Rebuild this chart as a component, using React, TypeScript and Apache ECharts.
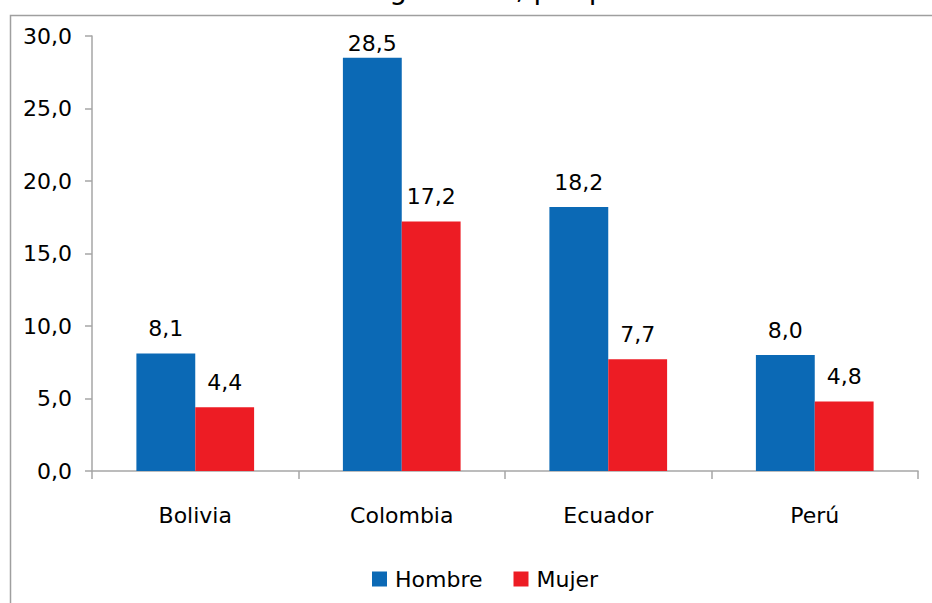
import React, { useEffect, useRef } from "react";
import * as echarts from "echarts";

// Countries on the category axis
const countries: string[] = ["Bolivia", "Colombia", "Ecuador", "Perú"];
// Series values per country
const hombre: number[] = [8.1, 28.5, 18.2, 8.0];
const mujer: number[] = [4.4, 17.2, 7.7, 4.8];
const seriesNames: string[] = ["Hombre", "Mujer"];
const titleText = "Tasa de homicidios según sexo, por país";

const FONT = "DejaVu Sans";
const SIZE = 22;
const fmt = (v: number) => v.toFixed(1).replace(".", ",");

export default function App() {
  const ref = useRef<HTMLDivElement>(null);

  useEffect(() => {
    if (!ref.current) return;
    const chart = echarts.init(ref.current, undefined, { renderer: "svg" });
    const labelStyle = {
      show: true,
      position: "top" as const,
      distance: 14,
      color: "#000",
      fontFamily: FONT,
      fontSize: SIZE,
      formatter: (p: any) => fmt(p.value),
    };
    // The tallest bar's label sits closer, kept inside the plot area
    const hombreData = hombre.map((v) =>
      v > 27 ? { value: v, label: { distance: 3 } } : v
    );
    chart.setOption({
      animation: false,
      backgroundColor: "#fff",
      graphic: [
        {
          type: "rect",
          shape: { x: 10.5, y: 15.5, width: 960, height: 620 },
          style: { fill: "none", stroke: "#9f9f9f", lineWidth: 1.5 },
          silent: true,
          z: -1,
        },
        {
          type: "text",
          x: 646,
          y: -11,
          style: {
            text: titleText,
            font: `28px "${FONT}"`,
            fill: "#000",
            align: "right",
            verticalAlign: "middle",
          },
          silent: true,
        },
      ],
      grid: { left: 92, right: 14, top: 36, bottom: 132, containLabel: false },
      legend: {
        data: seriesNames,
        left: 367,
        top: 563,
        itemWidth: 15,
        itemHeight: 15,
        itemGap: 31,
        icon: "rect",
        textStyle: {
          fontFamily: FONT,
          fontSize: SIZE,
          color: "#000",
          padding: [0, 0, 0, 3],
        },
      },
      xAxis: {
        type: "category",
        data: countries,
        axisLine: { lineStyle: { color: "#a6a6a6", width: 1.5 } },
        axisTick: { show: true, length: 8, lineStyle: { color: "#a6a6a6", width: 1.5 } },
        axisLabel: { margin: 33, fontFamily: FONT, fontSize: SIZE, color: "#000" },
      },
      yAxis: {
        type: "value",
        min: 0,
        max: 30,
        interval: 5,
        axisLine: { show: true, lineStyle: { color: "#a6a6a6", width: 1.5 } },
        axisTick: { show: true, length: 7, lineStyle: { color: "#a6a6a6", width: 1.5 } },
        splitLine: { show: false },
        axisLabel: {
          margin: 20,
          fontFamily: FONT,
          fontSize: SIZE,
          color: "#000",
          formatter: (v: number) => fmt(v),
        },
      },
      series: [
        {
          name: seriesNames[0],
          type: "bar",
          data: hombreData,
          barGap: "0%",
          barCategoryGap: "43%",
          itemStyle: { color: "#0b69b5" },
          label: labelStyle,
        },
        {
          name: seriesNames[1],
          type: "bar",
          data: mujer,
          barGap: "0%",
          barCategoryGap: "43%",
          itemStyle: { color: "#ed1c24" },
          label: labelStyle,
        },
      ],
    });
    return () => chart.dispose();
  }, []);

  return (
    <div
      ref={ref}
      style={{ position: "fixed", left: 0, top: 0, width: 932, height: 603, background: "#fff" }}
    />
  );
}
